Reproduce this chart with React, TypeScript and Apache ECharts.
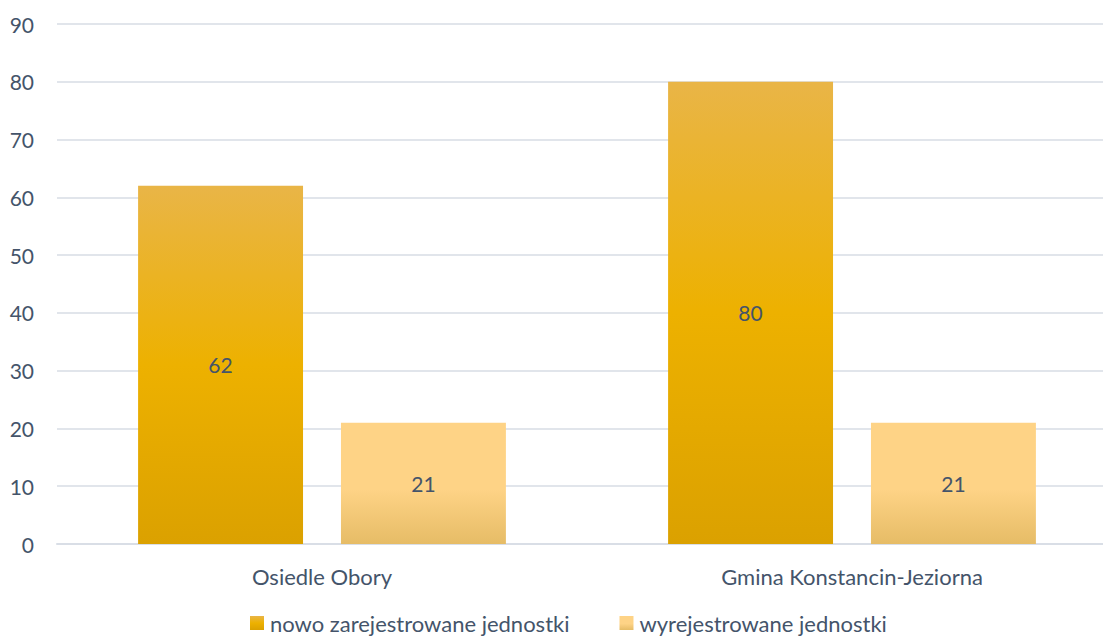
import React, { useEffect, useRef } from "react";
import * as echarts from "echarts";

const categories = ["Osiedle Obory", "Gmina Konstancin-Jeziorna"];
const seriesNames = ["nowo zarejestrowane jednostki", "wyrejestrowane jednostki"];
const newUnits = [62, 80];
const removedUnits = [21, 21];
const yTicks = { min: 0, max: 90, interval: 10 };

const TEXT = "#44546A";
const FONT = "Lato, 'Open Sans', sans-serif";

const grad1 = new echarts.graphic.LinearGradient(0, 0, 0, 1, [
  { offset: 0, color: "#E9B547" },
  { offset: 0.5, color: "#EDB100" },
  { offset: 1, color: "#DBA100" },
]);
const grad2 = new echarts.graphic.LinearGradient(0, 0, 0, 1, [
  { offset: 0, color: "#FED386" },
  { offset: 0.55, color: "#FED386" },
  { offset: 1, color: "#E6BC66" },
]);

export default function App() {
  const ref = useRef<HTMLDivElement>(null);
  useEffect(() => {
    if (!ref.current) return;
    const chart = echarts.init(ref.current, null, { renderer: "svg" });
    const label = {
      show: true,
      position: "inside",
      color: TEXT,
      fontSize: 21,
      fontFamily: FONT,
    };
    chart.setOption({
      animation: false,
      textStyle: { fontFamily: FONT },
      grid: {
        left: 57,
        width: 1060,
        top: 24,
        bottom: 93,
        containLabel: false,
        outerBoundsMode: "none",
      },
      legend: {
        bottom: 3,
        left: 250,
        padding: 0,
        itemWidth: 14,
        itemHeight: 14,
        itemGap: 50,
        icon: "rect",
        textStyle: { color: TEXT, fontSize: 22, fontFamily: FONT, padding: [0, 0, 0, 1] },
        data: seriesNames,
      },
      xAxis: {
        type: "category",
        data: categories,
        axisLine: { lineStyle: { color: "#D9DEE6", width: 2 } },
        axisTick: { show: false },
        axisLabel: { color: TEXT, fontSize: 22, fontFamily: FONT, margin: 21 },
      },
      yAxis: {
        type: "value",
        min: yTicks.min,
        max: yTicks.max,
        interval: yTicks.interval,
        axisLine: { show: false },
        axisTick: { show: false },
        axisLabel: { color: TEXT, fontSize: 21, fontFamily: FONT, margin: 23 },
        splitLine: { lineStyle: { color: "#E1E5EB", width: 2 } },
      },
      series: [
        {
          name: seriesNames[0],
          type: "bar",
          data: newUnits,
          barGap: "23%",
          barCategoryGap: "30.6%",
          itemStyle: { color: grad1 },
          label,
        },
        {
          name: seriesNames[1],
          type: "bar",
          data: removedUnits,
          barGap: "23%",
          barCategoryGap: "30.6%",
          itemStyle: { color: grad2 },
          label,
        },
      ],
    });
    return () => chart.dispose();
  }, []);
  return (
    <div
      ref={ref}
      style={{ position: "fixed", left: 0, top: 0, width: 1103, height: 637, background: "#fff" }}
    />
  );
}
